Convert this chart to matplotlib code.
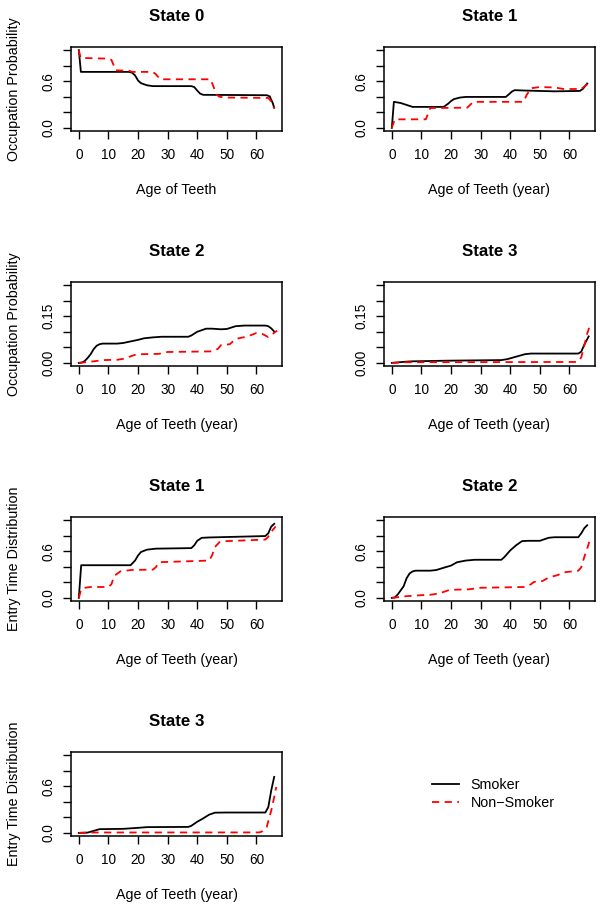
import numpy as np
import matplotlib
matplotlib.use("Agg")
import matplotlib.pyplot as plt
from matplotlib.lines import Line2D

plt.rcParams['font.family'] = ['Liberation Sans', 'DejaVu Sans']

# ---------------- data ----------------
# occupation probability, state 0
occ0_smk_x = [0, 0.7, 17, 18, 19, 20, 21, 23, 25, 38, 39, 40, 41, 42, 63.5, 64.5, 65.5, 66]
occ0_smk_y = [1.0, 0.72, 0.72, 0.71, 0.675, 0.61, 0.575, 0.548, 0.537, 0.537, 0.525, 0.48, 0.44, 0.425, 0.42, 0.405, 0.32, 0.26]
occ0_non_x = [0, 0.6, 10, 11, 12.5, 17, 18, 25, 26, 27.5, 44.5, 45.5, 46.5, 47.5, 50, 64, 65, 66]
occ0_non_y = [1.0, 0.9, 0.89, 0.875, 0.74, 0.735, 0.72, 0.72, 0.69, 0.625, 0.625, 0.53, 0.43, 0.40, 0.39, 0.385, 0.34, 0.25]

# occupation probability, state 1
occ1_smk_x = [0, 0.7, 3, 5, 7, 17.5, 19, 20, 21, 23, 25, 38.5, 39.5, 40.5, 41.5, 45, 55, 63.5, 64.5, 66]
occ1_smk_y = [0.0, 0.335, 0.32, 0.295, 0.27, 0.27, 0.31, 0.345, 0.37, 0.39, 0.398, 0.398, 0.43, 0.465, 0.485, 0.48, 0.47, 0.475, 0.5, 0.57]
occ1_non_x = [0, 1, 11.5, 13, 25.5, 27.5, 44.5, 45.5, 47, 50, 55, 58, 64, 66]
occ1_non_y = [0.0, 0.11, 0.11, 0.255, 0.26, 0.335, 0.335, 0.42, 0.51, 0.525, 0.52, 0.5, 0.5, 0.56]

# occupation probability, state 2
occ2_smk_x = [0, 1, 2, 3, 4, 5, 6, 7, 8, 13, 15, 18, 20, 22, 25, 28, 37, 38, 40, 43, 45, 48, 50, 53, 56, 63, 64, 65, 66]
occ2_smk_y = [0.0, 0.001, 0.006, 0.016, 0.028, 0.044, 0.055, 0.06, 0.062, 0.062, 0.064, 0.07, 0.074, 0.079, 0.082, 0.084,
              0.084, 0.088, 0.1, 0.11, 0.11, 0.108, 0.109, 0.118, 0.12, 0.12, 0.118, 0.111, 0.101]
occ2_non_x = [0, 2, 5, 8, 13, 15, 19, 21, 27, 30, 45, 47, 48, 51, 53, 57, 60, 62, 64, 65.5, 67]
occ2_non_y = [0.0, 0.002, 0.005, 0.009, 0.01, 0.013, 0.026, 0.028, 0.029, 0.035, 0.037, 0.045, 0.057, 0.06, 0.077,
              0.085, 0.096, 0.093, 0.083, 0.093, 0.104]

# occupation probability, state 3
occ3_smk_x = [0, 5, 7, 18, 37, 39, 42, 45, 47, 63, 64, 65, 66.5]
occ3_smk_y = [0.0, 0.004, 0.005, 0.007, 0.009, 0.012, 0.02, 0.028, 0.03, 0.03, 0.036, 0.058, 0.085]
occ3_non_x = [0, 5, 62, 63, 64, 65, 66, 67]
occ3_non_y = [0.0, 0.002, 0.003, 0.005, 0.018, 0.055, 0.094, 0.123]

# entry time distribution, state 1
ent1_smk_x = [0, 0.8, 17.5, 19, 20, 21, 23, 26, 38, 39, 40, 41.5, 44, 63, 64, 65, 66]
ent1_smk_y = [0.0, 0.42, 0.42, 0.48, 0.545, 0.59, 0.62, 0.633, 0.64, 0.677, 0.734, 0.772, 0.777, 0.795, 0.83, 0.917, 0.952]
ent1_non_x = [0, 0.8, 2, 4, 10, 11, 12, 14, 18, 25, 26, 27, 28, 44, 45, 46, 47.5, 50, 63, 64, 65.5, 66.5]
ent1_non_y = [0.0, 0.11, 0.13, 0.14, 0.14, 0.175, 0.284, 0.34, 0.36, 0.363, 0.393, 0.455, 0.46, 0.48, 0.546, 0.655,
              0.716, 0.73, 0.75, 0.786, 0.873, 0.917]

# entry time distribution, state 2
ent2_smk_x = [0, 1, 2, 4, 5, 6, 7, 8, 13, 15, 18, 20, 22, 25, 28, 37, 38, 40, 42, 44, 46, 50, 53, 55, 63, 64, 65, 66]
ent2_smk_y = [0.0, 0.005, 0.044, 0.15, 0.253, 0.314, 0.34, 0.35, 0.35, 0.358, 0.393, 0.415, 0.458, 0.48, 0.49, 0.49,
              0.524, 0.61, 0.677, 0.73, 0.734, 0.734, 0.773, 0.78, 0.78, 0.83, 0.895, 0.934]
ent2_non_x = [0, 5, 10, 13, 16, 19, 21, 26, 30, 45, 47, 48, 51, 53, 56, 58, 63, 64, 65, 66, 66.7]
ent2_non_y = [0.0, 0.022, 0.035, 0.04, 0.057, 0.096, 0.105, 0.11, 0.13, 0.14, 0.175, 0.205, 0.218, 0.262, 0.293,
              0.328, 0.35, 0.393, 0.524, 0.633, 0.72]

# entry time distribution, state 3
ent3_smk_x = [0, 3, 5, 7, 15, 20, 23, 37, 38, 40, 42, 44, 46, 50, 63, 64, 65, 66]
ent3_smk_y = [0.0, 0.004, 0.026, 0.048, 0.052, 0.065, 0.074, 0.077, 0.091, 0.143, 0.186, 0.234, 0.26, 0.262, 0.262,
              0.329, 0.545, 0.72]
ent3_non_x = [0, 5, 61, 62, 63.5, 65, 66, 66.7]
ent3_non_y = [0.0, 0.005, 0.006, 0.02, 0.078, 0.286, 0.46, 0.59]

titles = ["State 0", "State 1", "State 2", "State 3", "State 1", "State 2", "State 3"]
xlabels = ["Age of Teeth"] + ["Age of Teeth (year)"] * 6
ylabels = ["Occupation Probability", None, "Occupation Probability", None,
           "Entry Time Distribution", None, "Entry Time Distribution"]
legend_labels = ["Smoker", "Non\u2212Smoker"]

series = [
    (occ0_smk_x, occ0_smk_y, occ0_non_x, occ0_non_y),
    (occ1_smk_x, occ1_smk_y, occ1_non_x, occ1_non_y),
    (occ2_smk_x, occ2_smk_y, occ2_non_x, occ2_non_y),
    (occ3_smk_x, occ3_smk_y, occ3_non_x, occ3_non_y),
    (ent1_smk_x, ent1_smk_y, ent1_non_x, ent1_non_y),
    (ent2_smk_x, ent2_smk_y, ent2_non_x, ent2_non_y),
    (ent3_smk_x, ent3_smk_y, ent3_non_x, ent3_non_y),
]

# ---------------- layout ----------------
W, H = 604, 909
fig = plt.figure(figsize=(W / 100, H / 100), dpi=100)

box_left = [71, 384]
box_top = [47, 282, 517, 752]
box_w, box_h = 211, 84

lw = 1.3
dash = (4, 3)
fs_tick = 9.8
fs_lab = 10.3

for i, (sx, sy, nx, ny) in enumerate(series):
    r, c = divmod(i, 2)
    ax = fig.add_axes([box_left[c] / W, 1 - (box_top[r] + box_h) / H, box_w / W, box_h / H])
    ax.plot(sx, sy, color="black", lw=lw)
    ax.plot(nx, ny, color="red", lw=lw, dashes=dash)

    ax.set_xlim(-2.64, 68.64)
    ax.set_xticks(np.arange(0, 61, 10))
    if r == 1:
        ax.set_ylim(-0.01, 0.26)
        ax.set_yticks(np.arange(0, 0.26, 0.05))
        ax.set_yticklabels(["0.00", "", "", "0.15", "", ""])
    else:
        ax.set_ylim(-0.04, 1.04)
        ax.set_yticks(np.arange(0, 1.01, 0.2))
        ax.set_yticklabels(["0.0", "", "", "0.6", "", ""])

    for lab in ax.get_yticklabels():
        lab.set_rotation(90)
        lab.set_va("center")
    ax.tick_params(axis="both", direction="out", length=6, width=1.0, labelsize=fs_tick)
    ax.tick_params(axis="x", pad=6)
    ax.tick_params(axis="y", pad=5)
    for sp in ax.spines.values():
        sp.set_linewidth(1.1)

    ax.set_title(titles[i], fontsize=12.2, fontweight="bold", pad=19)
    ax.set_xlabel(xlabels[i], fontsize=fs_lab, labelpad=15.5)
    if ylabels[i]:
        ax.set_ylabel(ylabels[i], fontsize=fs_lab, labelpad=15)

handles = [Line2D([], [], color="black", lw=lw),
           Line2D([], [], color="red", lw=lw, dashes=dash)]
fig.legend(handles, legend_labels, loc="center left", bbox_to_anchor=(432 / W, 1 - 794 / H),
           frameon=False, fontsize=fs_lab, handlelength=1.9, handletextpad=0.8,
           labelspacing=0.25, borderpad=0, borderaxespad=0)

fig.savefig("out.png", dpi=100)
